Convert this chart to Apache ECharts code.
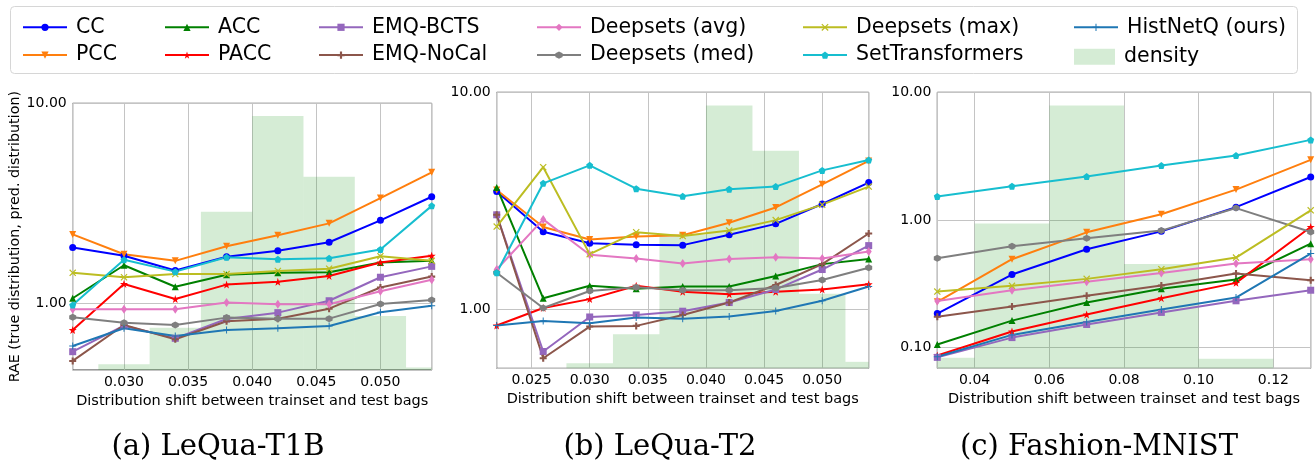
<!DOCTYPE html>
<html><head><meta charset="utf-8">
<script src="https://cdn.jsdelivr.net/npm/echarts@6/dist/echarts.min.js"></script>
<style>html,body{margin:0;padding:0;background:#fff}#c{width:1316px;height:469px}</style>
</head><body><div id="c"></div>
<script>
// ---------------- DATA ----------------
const methods = ['CC','PCC','ACC','PACC','EMQ-BCTS','EMQ-NoCal','Deepsets (avg)','Deepsets (med)','Deepsets (max)','SetTransformers','HistNetQ (ours)'];
const captions = ['(a) LeQua-T1B','(b) LeQua-T2','(c) Fashion-MNIST'];

// (a) LeQua-T1B
const shiftT1B = [0.026,0.030,0.034,0.038,0.042,0.046,0.050,0.054];
const t1bCC   = [1.90,1.73,1.46,1.71,1.83,2.02,2.60,3.41];
const t1bPCC  = [2.21,1.76,1.63,1.93,2.19,2.51,3.36,4.52];
const t1bACC  = [1.06,1.55,1.21,1.39,1.42,1.43,1.60,1.63];
const t1bPACC = [0.735,1.25,1.05,1.24,1.28,1.37,1.60,1.73];
const t1bEMQBCTS  = [0.573,0.773,0.668,0.835,0.898,1.03,1.35,1.53];
const t1bEMQNoCal = [0.515,0.779,0.661,0.813,0.838,0.94,1.20,1.36];
const t1bDSavg = [0.933,0.933,0.933,1.01,0.989,0.989,1.15,1.31];
const t1bDSmed = [0.851,0.80,0.779,0.848,0.838,0.838,0.992,1.04];
const t1bDSmax = [1.42,1.35,1.40,1.40,1.45,1.49,1.72,1.63];
const t1bSetT  = [0.98,1.65,1.44,1.70,1.66,1.68,1.86,3.07];
const t1bHist  = [0.612,0.75,0.687,0.735,0.75,0.77,0.902,0.973];
const t1bBinStart = [0.028,0.032,0.036,0.040,0.044,0.048,0.052];
const t1bBinEnd   = [0.032,0.036,0.040,0.044,0.048,0.052,0.056];
const t1bDensity  = [2.0,14.9,55.7,89.4,68.0,19.0,0.9];

// (b) LeQua-T2
const shiftT2 = [0.022,0.026,0.030,0.034,0.038,0.042,0.046,0.050,0.054];
const t2CC   = [3.48,2.27,2.01,1.98,1.97,2.20,2.47,3.05,3.83];
const t2PCC  = [3.54,2.39,2.09,2.16,2.19,2.50,2.94,3.76,4.82];
const t2ACC  = [3.64,1.12,1.28,1.24,1.27,1.27,1.42,1.61,1.70];
const t2PACC = [0.838,1.01,1.11,1.28,1.20,1.17,1.20,1.23,1.30];
const t2EMQBCTS  = [2.72,0.636,0.918,0.938,0.976,1.07,1.23,1.52,1.96];
const t2EMQNoCal = [2.72,0.592,0.829,0.835,0.938,1.07,1.29,1.61,2.23];
const t2DSavg = [1.52,2.59,1.78,1.71,1.62,1.70,1.73,1.71,1.84];
const t2DSmed = [1.47,1.01,1.21,1.26,1.22,1.22,1.25,1.36,1.55];
const t2DSmax = [2.40,4.51,1.79,2.26,2.17,2.30,2.57,3.03,3.67];
const t2SetT  = [1.47,3.80,4.60,3.59,3.31,3.57,3.67,4.36,4.87];
const t2Hist  = [0.838,0.88,0.859,0.912,0.902,0.922,0.979,1.09,1.27];
const t2BinStart = [0.028,0.032,0.036,0.040,0.044,0.048,0.052];
const t2BinEnd   = [0.032,0.036,0.040,0.044,0.048,0.052,0.056];
const t2Density  = [1.7,11.6,45.5,89.5,74.1,25.4,2.2];

// (c) Fashion-MNIST
const shiftFM = [0.03,0.05,0.07,0.09,0.11,0.13];
const fmCC   = [0.185,0.374,0.590,0.815,1.26,2.17];
const fmPCC  = [0.229,0.493,0.801,1.11,1.73,2.96];
const fmACC  = [0.106,0.163,0.226,0.289,0.342,0.653];
const fmPACC = [0.087,0.134,0.182,0.244,0.322,0.882];
const fmEMQBCTS  = [0.084,0.120,0.152,0.189,0.233,0.282];
const fmEMQNoCal = [0.175,0.210,0.255,0.307,0.381,0.338];
const fmDSavg = [0.232,0.282,0.328,0.385,0.456,0.493];
const fmDSmed = [0.502,0.623,0.719,0.826,1.24,0.806];
const fmDSmax = [0.275,0.305,0.346,0.412,0.508,1.19];
const fmSetT  = [1.53,1.84,2.19,2.67,3.20,4.24];
const fmHist  = [0.085,0.126,0.159,0.199,0.247,0.546];
const fmBinStart = [0.02,0.04,0.06,0.08,0.10];
const fmBinEnd   = [0.04,0.06,0.08,0.10,0.12];
const fmDensity  = [1.0,13.6,24.7,9.8,0.9];

// axis ranges
const xMinArr = [0.026,0.022,0.03];
const xMaxArr = [0.054,0.054,0.13];
const yMinArr = [0.464,0.532,0.069];
const yMaxArr = [10,10,10];

// ---------------- STYLE ----------------
const P = v => 'path://' + v;
const styles = {
  'CC':             {color:'#0000ff', symbol:'circle', size:7},
  'PCC':            {color:'#ff7f0e', symbol:'triangle', size:7, rotate:180},
  'ACC':            {color:'#008000', symbol:'triangle', size:7},
  'PACC':           {color:'#ff0000', symbol:P('M50,0 L61.8,35.1 L98.1,35.1 L68.8,56.7 L79.4,91.5 L50,70 L20.6,91.5 L31.2,56.7 L1.9,35.1 L38.2,35.1 Z'), size:8},
  'EMQ-BCTS':       {color:'#9467bd', symbol:'rect', size:7},
  'EMQ-NoCal':      {color:'#8c564b', symbol:P('M35,0 H65 V35 H100 V65 H65 V100 H35 V65 H0 V35 H35 Z'), size:7},
  'Deepsets (avg)': {color:'#e377c2', symbol:'diamond', size:[6,9]},
  'Deepsets (med)': {color:'#7f7f7f', symbol:P('M50,0 L93.3,25 L93.3,75 L50,100 L6.7,75 L6.7,25 Z'), size:7},
  'Deepsets (max)': {color:'#bcbd22', symbol:P('M12,0 L50,38 L88,0 L100,12 L62,50 L100,88 L88,100 L50,62 L12,100 L0,88 L38,50 L0,12 Z'), size:7},
  'SetTransformers':{color:'#17becf', symbol:P('M50,0 L97.6,34.5 L79.4,90.5 L20.6,90.5 L2.4,34.5 Z'), size:7},
  'HistNetQ (ours)':{color:'#1f77b4', symbol:P('M43,0 H57 V43 H100 V57 H57 V100 H43 V57 H0 V43 H43 Z'), size:7}
};
const densityColor = 'rgba(44,160,44,0.2)';
const FONT = 'DejaVu Sans';

const panels = [
  {xs: shiftT1B, vals: [t1bCC,t1bPCC,t1bACC,t1bPACC,t1bEMQBCTS,t1bEMQNoCal,t1bDSavg,t1bDSmed,t1bDSmax,t1bSetT,t1bHist], bs: t1bBinStart, be: t1bBinEnd, d: t1bDensity},
  {xs: shiftT2,  vals: [t2CC,t2PCC,t2ACC,t2PACC,t2EMQBCTS,t2EMQNoCal,t2DSavg,t2DSmed,t2DSmax,t2SetT,t2Hist], bs: t2BinStart, be: t2BinEnd, d: t2Density},
  {xs: shiftFM,  vals: [fmCC,fmPCC,fmACC,fmPACC,fmEMQBCTS,fmEMQNoCal,fmDSavg,fmDSmed,fmDSmax,fmSetT,fmHist], bs: fmBinStart, be: fmBinEnd, d: fmDensity}
];

const gridPos = [
  {left:72.7, top:103.3, width:359, height:266.7},
  {left:496.7, top:92.3, width:372, height:276},
  {left:937.3, top:92.3, width:373.4, height:276}
];

const grids = [], xAxes = [], yAxes = [], series = [];
panels.forEach((p, k) => {
  grids.push(Object.assign({show:true, borderColor:'#333', borderWidth:1, backgroundColor:'transparent', containLabel:false}, gridPos[k]));
  xAxes.push({
    type:'value', gridIndex:k, min:xMinArr[k], max:xMaxArr[k], splitNumber:5,
    name:'Distribution shift between trainset and test bags', nameLocation:'middle', nameGap:21,
    nameTextStyle:{fontFamily:FONT, fontSize:14.5, color:'#000'},
    axisLine:{show:false}, axisTick:{show:false},
    axisLabel:{fontFamily:FONT, fontSize:14, color:'#000', margin:5, showMinLabel:false, showMaxLabel:false,
      formatter: v => k === 2 ? v.toFixed(2) : v.toFixed(3)},
    splitLine:{show:true, lineStyle:{color:'#c4c4c4', width:1}}
  });
  yAxes.push({
    type:'log', logBase:10, gridIndex:k, min:yMinArr[k], max:yMaxArr[k],
    name: k === 0 ? 'RAE (true distribution, pred. distribution)' : '', nameLocation:'middle', nameGap:50, nameRotate:90,
    nameTextStyle:{fontFamily:FONT, fontSize:14.3, color:'#000'},
    axisLine:{show:false}, axisTick:{show:false}, minorTick:{show:false},
    axisLabel:{fontFamily:FONT, fontSize:14, color:'#000', margin:6, showMinLabel:false, formatter: v => Number(v).toFixed(2)},
    splitLine:{show:true, lineStyle:{color:'#c4c4c4', width:1}}
  });
  yAxes.push({type:'value', gridIndex:k, min:0, max:Math.max(...p.d)*1.05, show:false, splitLine:{show:false}});

  series.push({
    type:'custom', name:'density', xAxisIndex:k, yAxisIndex:2*k+1, z:1,
    itemStyle:{color:densityColor},
    encode:{x:[0,1], y:2},
    data: p.d.map((h, j) => [p.bs[j], p.be[j], h]),
    renderItem: (params, api) => {
      const p0 = api.coord([api.value(0), api.value(2)]);
      const p1 = api.coord([api.value(1), 0]);
      const cs = params.coordSys;
      const rect = echarts.graphic.clipRectByRect(
        {x:p0[0], y:p0[1], width:p1[0]-p0[0], height:p1[1]-p0[1]},
        {x:cs.x, y:cs.y, width:cs.width, height:cs.height});
      return rect && {type:'rect', shape:rect, style:{fill:densityColor}};
    }
  });
  methods.forEach((m, i) => {
    const s = styles[m];
    series.push({
      type:'line', name:m, xAxisIndex:k, yAxisIndex:2*k, z:3, zlevel:0,
      data: p.xs.map((x, j) => [x, p.vals[i][j]]),
      symbol:s.symbol, symbolSize:s.size, symbolRotate:s.rotate || 0, showSymbol:true,
      itemStyle:{color:s.color}, lineStyle:{color:s.color, width:2},
      emphasis:{disabled:true}, clip:true
    });
  });
});

const legendBase = {orient:'vertical', itemWidth:44, itemHeight:9, itemGap:6.8,
  textStyle:{fontFamily:FONT, fontSize:20.5, color:'#000', lineHeight:20, padding:[0,0,0,4]},
  selectedMode:false};
const legendCols = [
  {left:17, data:['CC','PCC']},
  {left:159, data:['ACC','PACC']},
  {left:313, data:['EMQ-BCTS','EMQ-NoCal']},
  {left:531, data:['Deepsets (avg)','Deepsets (med)']},
  {left:797, data:['Deepsets (max)','SetTransformers']},
  {left:1068, data:['HistNetQ (ours)']}
];
const legends = legendCols.map(c => Object.assign({}, legendBase, {left:c.left, top:11.8, data:c.data}));
legends.push(Object.assign({}, legendBase, {left:1069, top:41.2, itemWidth:41, itemHeight:16,
  data:[{name:'density', icon:'rect', itemStyle:{color:densityColor}}]}));

const chart = echarts.init(document.getElementById('c'), null, {renderer:'canvas'});
chart.setOption({
  animation:false,
  backgroundColor:'#fff',
  grid:grids, xAxis:xAxes, yAxis:yAxes, series:series, legend:legends,
  graphic:[
    {type:'rect', left:10, top:6, shape:{width:1287, height:67, r:4}, style:{fill:'#fff', stroke:'#d6d6d6', lineWidth:1}, z:-1, silent:true},
    {type:'text', x:218, y:447, style:{text:captions[0], fontFamily:'DejaVu Serif', fontSize:29, fill:'#000', textAlign:'center', textVerticalAlign:'middle'}},
    {type:'text', x:660, y:447, style:{text:captions[1], fontFamily:'DejaVu Serif', fontSize:29, fill:'#000', textAlign:'center', textVerticalAlign:'middle'}},
    {type:'text', x:1099, y:447, style:{text:captions[2], fontFamily:'DejaVu Serif', fontSize:29, fill:'#000', textAlign:'center', textVerticalAlign:'middle'}}
  ]
});
</script></body></html>
